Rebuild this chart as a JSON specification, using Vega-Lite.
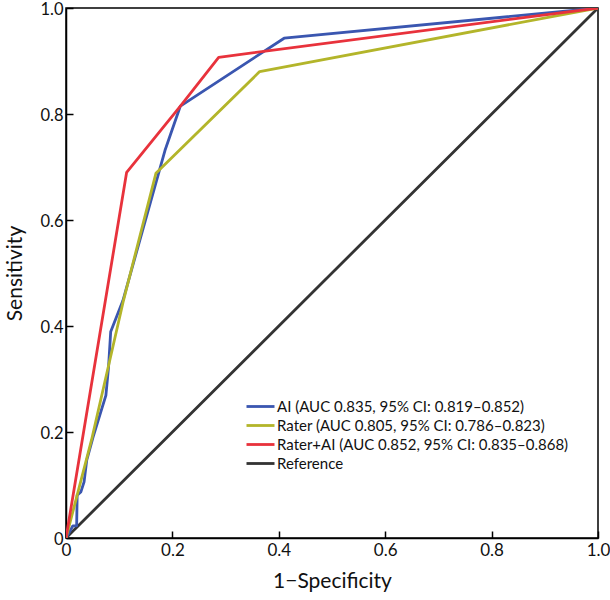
{
  "$schema": "https://vega.github.io/schema/vega-lite/v6.json",
  "width": 532,
  "height": 530,
  "autosize": {"type": "none"},
  "padding": {"left": 66, "top": 8, "right": 12, "bottom": 62},
  "background": "white",
  "config": {
    "view": {"stroke": "#000", "strokeWidth": 1.5},
    "font": "Lato"
  },
  "data": {
    "values": [
      {"series": "Reference", "i": 0, "x": 0, "y": 0},
      {"series": "Reference", "i": 1, "x": 1, "y": 1},
      {"series": "AI (AUC 0.835, 95% CI: 0.819–0.852)", "i": 0, "x": 0, "y": 0},
      {"series": "AI (AUC 0.835, 95% CI: 0.819–0.852)", "i": 1, "x": 0.013, "y": 0.023},
      {"series": "AI (AUC 0.835, 95% CI: 0.819–0.852)", "i": 2, "x": 0.02, "y": 0.023},
      {"series": "AI (AUC 0.835, 95% CI: 0.819–0.852)", "i": 3, "x": 0.021, "y": 0.081},
      {"series": "AI (AUC 0.835, 95% CI: 0.819–0.852)", "i": 4, "x": 0.028, "y": 0.087},
      {"series": "AI (AUC 0.835, 95% CI: 0.819–0.852)", "i": 5, "x": 0.034, "y": 0.106},
      {"series": "AI (AUC 0.835, 95% CI: 0.819–0.852)", "i": 6, "x": 0.039, "y": 0.147},
      {"series": "AI (AUC 0.835, 95% CI: 0.819–0.852)", "i": 7, "x": 0.051, "y": 0.191},
      {"series": "AI (AUC 0.835, 95% CI: 0.819–0.852)", "i": 8, "x": 0.075, "y": 0.269},
      {"series": "AI (AUC 0.835, 95% CI: 0.819–0.852)", "i": 9, "x": 0.08, "y": 0.323},
      {"series": "AI (AUC 0.835, 95% CI: 0.819–0.852)", "i": 10, "x": 0.084, "y": 0.389},
      {"series": "AI (AUC 0.835, 95% CI: 0.819–0.852)", "i": 11, "x": 0.107, "y": 0.448},
      {"series": "AI (AUC 0.835, 95% CI: 0.819–0.852)", "i": 12, "x": 0.186, "y": 0.731},
      {"series": "AI (AUC 0.835, 95% CI: 0.819–0.852)", "i": 13, "x": 0.215, "y": 0.815},
      {"series": "AI (AUC 0.835, 95% CI: 0.819–0.852)", "i": 14, "x": 0.41, "y": 0.943},
      {"series": "AI (AUC 0.835, 95% CI: 0.819–0.852)", "i": 15, "x": 1, "y": 1},
      {"series": "Rater (AUC 0.805, 95% CI: 0.786–0.823)", "i": 0, "x": 0, "y": 0},
      {"series": "Rater (AUC 0.805, 95% CI: 0.786–0.823)", "i": 1, "x": 0.048, "y": 0.185},
      {"series": "Rater (AUC 0.805, 95% CI: 0.786–0.823)", "i": 2, "x": 0.108, "y": 0.448},
      {"series": "Rater (AUC 0.805, 95% CI: 0.786–0.823)", "i": 3, "x": 0.169, "y": 0.688},
      {"series": "Rater (AUC 0.805, 95% CI: 0.786–0.823)", "i": 4, "x": 0.364, "y": 0.88},
      {"series": "Rater (AUC 0.805, 95% CI: 0.786–0.823)", "i": 5, "x": 1, "y": 1},
      {"series": "Rater+AI (AUC 0.852, 95% CI: 0.835–0.868)", "i": 0, "x": 0, "y": 0},
      {"series": "Rater+AI (AUC 0.852, 95% CI: 0.835–0.868)", "i": 1, "x": 0.114, "y": 0.69},
      {"series": "Rater+AI (AUC 0.852, 95% CI: 0.835–0.868)", "i": 2, "x": 0.215, "y": 0.815},
      {"series": "Rater+AI (AUC 0.852, 95% CI: 0.835–0.868)", "i": 3, "x": 0.287, "y": 0.907},
      {"series": "Rater+AI (AUC 0.852, 95% CI: 0.835–0.868)", "i": 4, "x": 1, "y": 1}
    ]
  },
  "mark": {"type": "line", "strokeCap": "round", "strokeJoin": "round", "clip": true},
  "encoding": {
    "x": {
      "field": "x", "type": "quantitative",
      "scale": {"domain": [0, 1], "nice": false},
      "axis": {
        "title": "1−Specificity", "titleFontSize": 21, "titleFontWeight": "normal", "titleColor": "#111", "titlePadding": 12,
        "values": [0, 0.2, 0.4, 0.6, 0.8, 1],
        "labelExpr": "datum.value == 0 ? '0' : format(datum.value, '.1f')",
        "labelFontSize": 17, "labelColor": "#111", "labelPadding": 11, "labelFlush": false,
        "tickSize": -7, "tickColor": "#000", "tickWidth": 1.5,
        "domainColor": "#000", "domainWidth": 1.5, "grid": false
      }
    },
    "y": {
      "field": "y", "type": "quantitative",
      "scale": {"domain": [0, 1], "nice": false},
      "axis": {
        "title": "Sensitivity", "titleFontSize": 21, "titleFontWeight": "normal", "titleColor": "#111", "titlePadding": 14,
        "values": [0, 0.2, 0.4, 0.6, 0.8, 1],
        "labelExpr": "datum.value == 0 ? '0' : format(datum.value, '.1f')",
        "labelFontSize": 16.5, "labelColor": "#111", "labelPadding": 10, "labelFlush": false, "labelOffset": 1.5,
        "tickSize": -7, "tickColor": "#000", "tickWidth": 1.5,
        "domainColor": "#000", "domainWidth": 1.5, "grid": false
      }
    },
    "color": {
      "field": "series", "type": "nominal",
      "scale": {
        "domain": [
          "AI (AUC 0.835, 95% CI: 0.819–0.852)",
          "Rater (AUC 0.805, 95% CI: 0.786–0.823)",
          "Rater+AI (AUC 0.852, 95% CI: 0.835–0.868)",
          "Reference"
        ],
        "range": ["#3a56b0", "#b3b52a", "#e8323c", "#333333"]
      },
      "legend": {
        "title": null,
        "orient": "none",
        "legendX": 179,
        "legendY": 390,
        "padding": 0,
        "symbolType": "M-1,0H3",
        "symbolSize": 196,
        "labelFontSize": 15,
        "labelColor": "#111",
        "labelOffset": 15,
        "rowPadding": 2,
        "labelLimit": 400,
        "encode": {
          "symbols": {"update": {
            "fill": {"value": "transparent"},
            "strokeWidth": {"signal": "datum.value === 'Reference' ? 1.2 : 3"}
          }}
        }
      }
    },
    "strokeWidth": {
      "field": "series", "type": "nominal",
      "scale": {
        "domain": [
          "AI (AUC 0.835, 95% CI: 0.819–0.852)",
          "Rater (AUC 0.805, 95% CI: 0.786–0.823)",
          "Rater+AI (AUC 0.852, 95% CI: 0.835–0.868)",
          "Reference"
        ],
        "range": [2.8, 2.8, 2.8, 1.1]
      },
      "legend": null
    },
    "order": {"field": "i", "type": "quantitative"}
  }
}
